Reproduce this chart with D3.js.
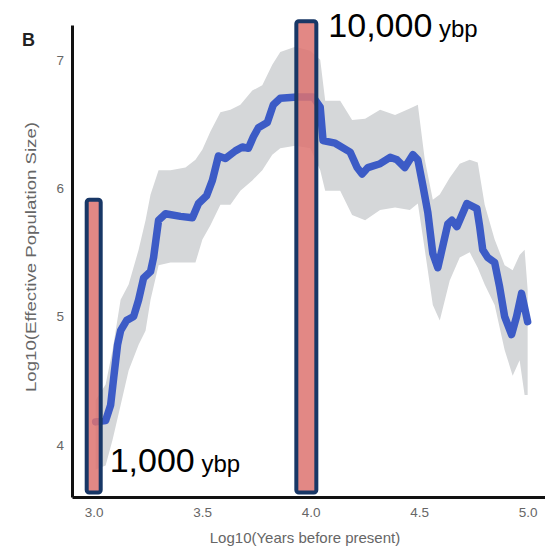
<!DOCTYPE html>
<html>
<head>
<meta charset="utf-8">
<script src="https://cdn.jsdelivr.net/npm/d3@7"></script>
<style>
  body { margin: 0; background: #fff; }
  .axis text { fill: #666; font-size: 13.5px; font-family: "Liberation Sans", Arial, sans-serif; }
  .axis path { stroke: #111; stroke-width: 3; }
</style>
</head>
<body>
<div id="chart"></div>
<script>
// log10(years before present) vs log10(Ne)
const lineX = [3.009, 3.055, 3.078, 3.092, 3.110, 3.124, 3.152, 3.184, 3.207, 3.230, 3.262, 3.276,
  3.299, 3.331, 3.400, 3.455, 3.483, 3.520, 3.547, 3.575, 3.607, 3.653, 3.685, 3.713, 3.736, 3.759,
  3.800, 3.828, 3.860, 3.938, 4.011, 4.044, 4.057, 4.113, 4.182, 4.214, 4.237, 4.264, 4.320, 4.366,
  4.398, 4.434, 4.471, 4.494, 4.517, 4.540, 4.563, 4.586, 4.605, 4.632, 4.651, 4.674, 4.720, 4.766,
  4.779, 4.793, 4.816, 4.848, 4.871, 4.894, 4.926, 4.949, 4.972, 4.986, 5.000];
const lineY = [4.18, 4.19, 4.31, 4.52, 4.78, 4.89, 4.97, 5.00, 5.13, 5.30, 5.35, 5.46,
  5.75, 5.80, 5.78, 5.77, 5.88, 5.94, 6.06, 6.25, 6.23, 6.29, 6.32, 6.31, 6.40, 6.47,
  6.51, 6.65, 6.70, 6.71, 6.71, 6.63, 6.37, 6.35, 6.28, 6.16, 6.11, 6.16, 6.19, 6.24,
  6.22, 6.16, 6.26, 6.22, 6.02, 5.81, 5.49, 5.38, 5.52, 5.72, 5.75, 5.70, 5.88, 5.84,
  5.70, 5.52, 5.46, 5.42, 5.23, 5.00, 4.86, 5.00, 5.18, 5.07, 4.96];

// confidence band
const bandX = [3.009, 3.055, 3.087, 3.124, 3.161, 3.207, 3.239, 3.262, 3.299, 3.354, 3.423, 3.469,
  3.501, 3.538, 3.584, 3.630, 3.676, 3.731, 3.777, 3.823, 3.860, 3.929, 3.998, 4.044, 4.067,
  4.136, 4.191, 4.251, 4.320, 4.389, 4.457, 4.494, 4.526, 4.563, 4.595, 4.641, 4.687, 4.733,
  4.770, 4.802, 4.848, 4.894, 4.931, 4.963, 4.986, 5.000];
const bandHi = [4.35, 4.47, 4.74, 5.13, 5.25, 5.52, 5.75, 5.95, 6.14, 6.14, 6.16, 6.22,
  6.30, 6.44, 6.59, 6.61, 6.65, 6.76, 6.80, 6.96, 7.06, 7.10, 7.07, 7.00, 6.68,
  6.68, 6.53, 6.54, 6.61, 6.57, 6.62, 6.65, 6.22, 5.91, 5.95, 6.08, 6.19, 6.22,
  6.20, 5.87, 5.60, 5.40, 5.36, 5.48, 5.52, 5.21];
const bandLo = [3.81, 3.84, 4.04, 4.31, 4.58, 4.78, 4.89, 5.13, 5.40, 5.42, 5.42, 5.42,
  5.60, 5.71, 5.87, 5.87, 5.98, 6.06, 6.14, 6.26, 6.31, 6.33, 6.31, 6.14, 5.98,
  5.98, 5.79, 5.75, 5.83, 5.85, 5.83, 5.88, 5.52, 5.09, 4.97, 5.28, 5.46, 5.50,
  5.38, 5.25, 5.09, 4.74, 4.54, 4.66, 4.39, 4.39];

// highlighted time points
const markX = [3.0, 3.98];
const markTop = [5.91, 7.30];
const markBase = 3.63;
const markNum = ["1,000", "10,000"];
const markUnit = "ybp";

const xTicks = [3.0, 3.5, 4.0, 4.5, 5.0];
const yTicks = [4, 5, 6, 7];

const width = 545, height = 548;
const font = "'Liberation Sans', Arial, Helvetica, sans-serif";

const svg = d3.select("#chart").append("svg")
    .attr("width", width)
    .attr("height", height)
    .style("display", "block");

const x = d3.scaleLinear().domain([2.9, 5.08]).range([72, 545]);
const y = d3.scaleLinear().domain([3.595, 7.27]).range([497, 25]);

const band = bandX.map((d, i) => ({ x: d, lo: bandLo[i], hi: bandHi[i] }));
const series = lineX.map((d, i) => ({ x: d, y: lineY[i] }));

svg.append("path")
    .datum(band)
    .attr("fill", "#d5d7d9")
    .attr("d", d3.area()
        .x(d => x(d.x))
        .y0(d => y(d.lo))
        .y1(d => y(d.hi)));

svg.append("path")
    .datum(series)
    .attr("fill", "none")
    .attr("stroke", "#3c5bc6")
    .attr("stroke-width", 7.5)
    .attr("stroke-linejoin", "round")
    .attr("stroke-linecap", "round")
    .attr("d", d3.line().x(d => x(d.x)).y(d => y(d.y)));

// axes
svg.append("g")
    .attr("class", "axis")
    .attr("transform", `translate(0, ${y(3.595)})`)
    .call(d3.axisBottom(x).tickValues(xTicks).tickFormat(d3.format(".1f"))
        .tickSize(0).tickPadding(10));

svg.append("g")
    .attr("class", "axis")
    .attr("transform", `translate(${x(2.9)}, 0)`)
    .call(d3.axisLeft(y).tickValues(yTicks).tickFormat(d3.format("d"))
        .tickSize(0).tickPadding(8));

svg.append("text")
    .attr("x", 305)
    .attr("y", 543)
    .attr("text-anchor", "middle")
    .attr("font-family", font)
    .attr("font-size", 15)
    .attr("fill", "#666")
    .text("Log10(Years before present)");

svg.append("text")
    .attr("transform", "translate(36, 257) rotate(-90)")
    .attr("text-anchor", "middle")
    .attr("font-family", font)
    .attr("font-size", 15)
    .attr("textLength", 270)
    .attr("lengthAdjust", "spacingAndGlyphs")
    .attr("fill", "#666")
    .text("Log10(Effective Population Size)");

svg.append("text")
    .attr("x", 22)
    .attr("y", 46)
    .attr("font-family", font)
    .attr("font-size", 18)
    .attr("font-weight", "bold")
    .attr("fill", "#222")
    .text("B");

// marker bars
const barW = [14, 20];
svg.selectAll("rect.mark").data(markX)
    .enter().append("rect")
    .attr("class", "mark")
    .attr("x", (d, i) => x(d) - barW[i] / 2)
    .attr("y", (d, i) => y(markTop[i]))
    .attr("width", (d, i) => barW[i])
    .attr("height", (d, i) => y(markBase) - y(markTop[i]))
    .attr("rx", 2.5)
    .attr("fill", "#dd7370")
    .attr("fill-opacity", 0.85)
    .attr("stroke", "#183766")
    .attr("stroke-width", 4);

// labels next to bars
const labelPos = [[x(3.0) + 16, 472], [x(3.98) + 22, 37]];
markNum.forEach((t, i) => {
    const lbl = svg.append("text")
        .attr("x", labelPos[i][0])
        .attr("y", labelPos[i][1])
        .attr("font-family", font)
        .attr("fill", "#000");
    lbl.append("tspan").attr("font-size", 34).text(t);
    lbl.append("tspan").attr("font-size", 24).text(" " + markUnit);
});
</script>
</body>
</html>
